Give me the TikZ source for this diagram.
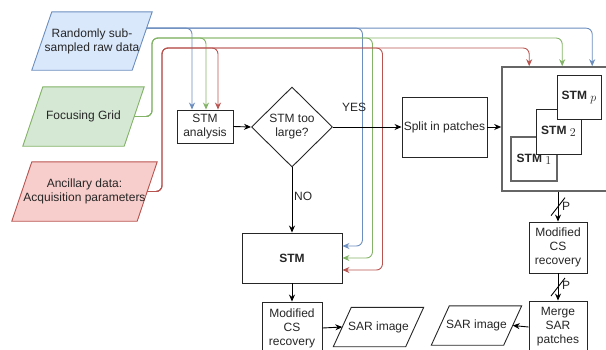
\documentclass[tikz,border=0pt]{standalone}
\usepackage{fontspec}
\setmainfont{Liberation Sans}
\usetikzlibrary{arrows.meta,positioning,calc,shapes.geometric,backgrounds}
\definecolor{rawfill}{HTML}{DAE8FC}
\definecolor{rawline}{HTML}{6C8EBF}
\definecolor{gridfill}{HTML}{D5E8D4}
\definecolor{gridline}{HTML}{82B366}
\definecolor{ancfill}{HTML}{F8CECC}
\definecolor{ancline}{HTML}{B85450}
% parallelogram round a rectangular node: node, style, half slant
\newcommand{\slantbox}[3]{\draw[#2] ($(#1.south west)+(-#3,0)$) -- ($(#1.north west)+(#3,0)$)
  -- ($(#1.north east)+(#3,0)$) -- ($(#1.south east)+(-#3,0)$) -- cycle;}

\begin{document}
\begin{tikzpicture}[x=1pt,y=-1pt,
  >={Stealth[length=7pt,width=6pt]},
  font=\fontsize{12}{14}\selectfont,
  box/.style={draw=black!85, line width=0.9pt, fill=white, align=center, inner sep=0pt, text=black!85},
  inp/.style={align=center, inner sep=0pt, text=black!85},
  flow/.style={->, draw=black, line width=0.9pt},
  bwire/.style={->, draw=rawline, line width=0.9pt, rounded corners=6pt},
  gwire/.style={->, draw=gridline, line width=0.9pt, rounded corners=6pt},
  rwire/.style={->, draw=ancline, line width=0.9pt, rounded corners=6pt},
  lbl/.style={inner sep=0pt, text=black!85},
]
\useasboundingbox (0,0) rectangle (606,349);
\clip (0,0) rectangle (606,349);
% inputs
\node[inp, minimum width=100pt, minimum height=58pt] (raw) at (92,41) {Randomly sub-\\sampled raw data};
\node[inp, minimum width=101pt, minimum height=59pt] (grid) at (83.5,116.5) {Focusing Grid};
\node[inp, minimum width=125pt, minimum height=59pt] (anc) at (84.5,191.5) {Ancillary data:\\Acquisition parameters};
% main chain
\node[box, minimum width=56pt, minimum height=33pt] (analysis) at (205,126.5) {STM\\analysis};
\node[box, diamond, minimum width=81pt, minimum height=80pt] (toolarge) at (292,127) {STM too\\large?};
\node[box, minimum width=85pt, minimum height=60pt] (patches) at (444.5,127) {Split in patches};
\node[box, minimum width=100pt, minimum height=50pt] (stm) at (292,258) {\textbf{STM}};
\node[box, minimum width=60pt, minimum height=52pt] (cs1) at (292,328) {Modified\\CS\\recovery};
\node[inp, minimum width=72pt, minimum height=39pt] (sar1) at (378.5,327) {SAR image};
% patches
\node[draw=black!60, line width=1.6pt, minimum width=118pt, minimum height=124pt] (pbox) at (561,129) {};
\node[box, draw=black!60, line width=1.2pt, minimum width=46pt, minimum height=44pt] (stm1) at (534,159) {\textbf{STM} \raisebox{-2pt}{$1$}};
\node[box, minimum width=45pt, minimum height=45pt] (stm2) at (558.5,131.5) {\textbf{STM} \raisebox{-2pt}{$2$}};
\node[box, minimum width=44pt, minimum height=44pt] (stmp) at (579,97) {\textbf{STM} \raisebox{-2pt}{$p$}};
\node[box, minimum width=58pt, minimum height=51pt] (cs2) at (558,247.5) {Modified\\CS\\recovery};
\node[box, minimum width=58pt, minimum height=52pt] (merge) at (558,327) {Merge\\SAR\\patches};
\node[inp, minimum width=72pt, minimum height=39pt] (sar2) at (476.5,325.5) {SAR image};
\begin{scope}[on background layer]
\slantbox{raw}{fill=rawfill, draw=rawline, line width=0.9pt}{10}
\slantbox{grid}{fill=gridfill, draw=gridline, line width=0.9pt}{10}
\slantbox{anc}{fill=ancfill, draw=ancline, line width=0.9pt}{10}
\slantbox{sar1}{draw=black!85, line width=0.9pt}{9}
\slantbox{sar2}{draw=black!85, line width=0.9pt}{9}
\end{scope}
% input wires
\coordinate (rawout) at ($($(raw.north east)+(10,0)$)!0.28!($(raw.south east)+(-10,0)$)$);
\draw[bwire] (rawout) -| ($(analysis.north)+(-13,0)$);
\draw[bwire] (rawout) -| ($(pbox.north west)+(91,0)$);
\draw[bwire] (rawout) -| ($(stm.east)+(20,-12)$) -- ($(stm.east)+(0,-12)$);
\draw[gwire] (grid.east) -| (152,38) -| ($(analysis.north)+(1,0)$);
\draw[gwire] (grid.east) -| (152,38) -| ($(pbox.north west)+(61,0)$);
\draw[gwire] (grid.east) -| (152,38) -| ($(stm.east)+(30,0)$) -- (stm.east);
\draw[rwire] (anc.east) -| (162,48) -| ($(analysis.north)+(13,0)$);
\draw[rwire] (anc.east) -| (162,48) -| ($(pbox.north west)+(28,0)$);
\draw[rwire] (anc.east) -| (162,48) -| ($(stm.east)+(40,12)$) -- ($(stm.east)+(0,12)$);
% flow
\draw[flow] (analysis.east) -- (toolarge.west);
\draw[flow] (toolarge.east) -- (patches.west);
\node[lbl, anchor=south west] at ($(toolarge.east)+(9,-15)$) {YES};
\draw[flow] (toolarge.south) -- (stm.north);
\node[lbl, anchor=west] at ($(toolarge.south)!0.45!(stm.north)+(2,0)$) {NO};
\draw[flow] (patches.east) -- (patches.east -| pbox.west);
\draw[flow] (stm.south) -- (cs1.north);
\draw[flow] (cs1.east) -- (sar1.west);
\draw[flow] (pbox.south -| cs2.north) -- coordinate (cut1) (cs2.north);
\draw[flow] (cs2.south) -- coordinate (cut2) (merge.north);
\draw[flow] (merge.west) -- (sar2.east);
\draw[line width=0.9pt] ($(cut1)+(-7,9)$) -- ($(cut1)+(7,-9)$);
\draw[line width=0.9pt] ($(cut2)+(-7,9)$) -- ($(cut2)+(7,-9)$);
\node[lbl, anchor=west] at ($(cut1)+(4,0)$) {P};
\node[lbl, anchor=west] at ($(cut2)+(4,-2)$) {P};
\end{tikzpicture}
\end{document}
